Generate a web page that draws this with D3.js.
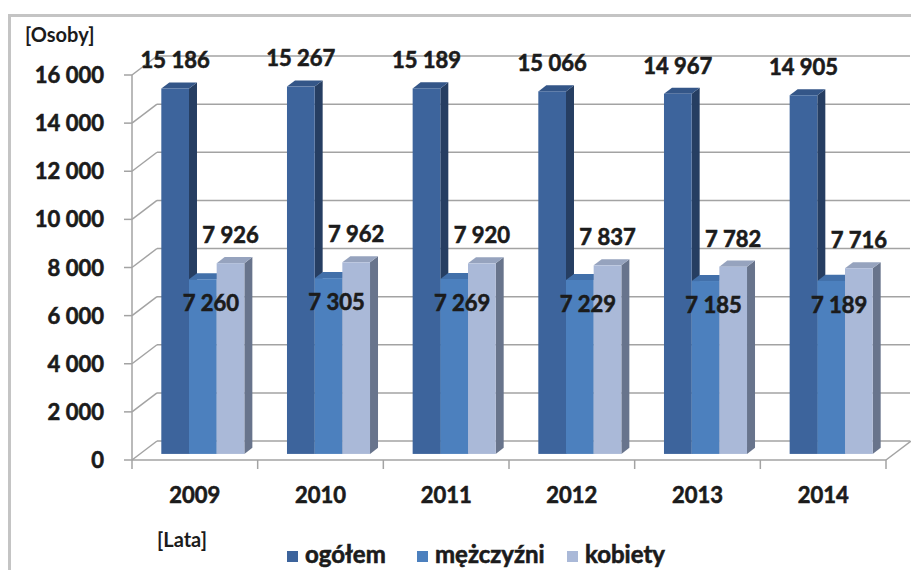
<!DOCTYPE html>
<html>
<head>
<meta charset="utf-8">
<script src="https://cdn.jsdelivr.net/npm/d3@7"></script>
<style>
	html, body { margin: 0; padding: 0; background: #fff; }
	text { font-family: Lato, 'Open Sans', sans-serif; font-weight: bold; fill: #1b1b1b; }
	text.heavy { stroke: #1b1b1b; stroke-width: 0.6px; }
</style>
</head>
<body>
<div id="js_chart"></div>
<script>
/*globals d3*/
'use strict';

const years = ['2009', '2010', '2011', '2012', '2013', '2014'];
const seriesNames = ['ogółem', 'mężczyźni', 'kobiety'];
const ogolem = [15186, 15267, 15189, 15066, 14967, 14905];
const mezczyzni = [7260, 7305, 7269, 7229, 7185, 7189];
const kobiety = [7926, 7962, 7920, 7837, 7782, 7716];
const yTicks = [0, 2000, 4000, 6000, 8000, 10000, 12000, 14000, 16000];
const yLabel = '[Osoby]';
const xLabel = '[Lata]';

(function () {
	const width = 911;
	const height = 570;
	const gridColor = '#a3a3a3';
	// front, top, side per series
	const colors = [
		{ front: 'rgb(61,100,156)', top: 'rgb(52,86,136)', side: 'rgb(38,62,98)' },
		{ front: 'rgb(76,128,190)', top: 'rgb(66,112,170)', side: 'rgb(52,90,140)' },
		{ front: 'rgb(170,185,216)', top: 'rgb(150,163,190)', side: 'rgb(104,116,140)' }
	];
	const depth = { dx: 25, dy: -19 };
	const barDepth = { start: 0.32, size: 0.32 };
	const values = [ogolem, mezczyzni, kobiety];

	const fmt = d3.formatLocale({ decimal: ',', thousands: ' ', grouping: [3], currency: ['', ''] }).format(',d');

	let svg = d3.select('#js_chart').append('svg')
		.attr('width', width)
		.attr('height', height);

	let x0 = d3.scaleBand().domain(years).range([132, 886]);
	let x1 = d3.scaleBand().domain(seriesNames).range([0, x0.bandwidth()]).paddingOuter(0.77);
	let y = d3.scaleLinear().domain([0, 16000]).range([460, 75]);

	function line(x1p, y1p, x2p, y2p, color, w) {
		svg.append('line')
			.attr('x1', x1p).attr('y1', y1p)
			.attr('x2', x2p).attr('y2', y2p)
			.style('stroke', color)
			.style('stroke-width', w);
	}

	function drawFrame() {
		svg.append('rect')
			.attr('x', 9.5).attr('y', 15.5)
			.attr('width', 1000).attr('height', 1000)
			.style('fill', 'none')
			.style('stroke', '#c4c4c4')
			.style('stroke-width', 3);
	}

	function drawWalls() {
		const backRight = 910;
		yTicks.forEach(function (t) {
			let yy = y(t);
			// side wall diagonal and back wall line
			line(132, yy, 132 + depth.dx, yy + depth.dy, gridColor, 1.5);
			line(132 + depth.dx, yy + depth.dy, backRight, yy + depth.dy, gridColor, 1.5);
			// tick
			line(124, yy, 132, yy, gridColor, 1.5);
			svg.append('text')
				.classed('heavy', true)
				.attr('x', 104)
				.attr('y', yy + 8)
				.attr('text-anchor', 'end')
				.style('font-size', '22px')
				.text(fmt(t));
		});
		// axis
		line(132, y(16000), 132, 469, gridColor, 1.5);
		// floor front edge and right diagonal
		line(132, y(0), 886, y(0), gridColor, 1.5);
		line(886, y(0), 886 + depth.dx, y(0) + depth.dy, gridColor, 1.5);
		// category ticks
		years.forEach(function (d) {
			let xx = x0(d) + x0.bandwidth();
			line(xx, y(0), xx, 469, gridColor, 1.5);
			svg.append('text')
				.classed('heavy', true)
				.attr('x', x0(d) + x0.bandwidth() / 2)
				.attr('y', 503)
				.attr('text-anchor', 'middle')
				.style('font-size', '22px')
				.text(d);
		});
	}

	function drawBars() {
		let fx = depth.dx * barDepth.start;
		let fy = depth.dy * barDepth.start;
		let sx = depth.dx * barDepth.size;
		let sy = depth.dy * barDepth.size;
		years.forEach(function (yr, gi) {
			seriesNames.forEach(function (s, si) {
				let v = values[si][gi];
				let xl = x0(yr) + x1(s) + fx;
				let xr = xl + x1.bandwidth();
				let yt = y(v) + fy;
				let yb = y(0) + fy;
				let g = svg.append('g');
				g.append('polygon')
					.attr('points', [[xr, yt], [xr + sx, yt + sy], [xr + sx, yb + sy], [xr, yb]].join(' '))
					.style('fill', colors[si].side);
				g.append('polygon')
					.attr('points', [[xl, yt], [xl + sx, yt + sy], [xr + sx, yt + sy], [xr, yt]].join(' '))
					.style('fill', colors[si].top);
				g.append('rect')
					.attr('x', xl).attr('y', yt)
					.attr('width', x1.bandwidth())
					.attr('height', yb - yt)
					.style('fill', colors[si].front);
			});
		});
	}

	function drawValueLabels() {
		let fx = depth.dx * barDepth.start;
		let fy = depth.dy * barDepth.start;
		let sy = depth.dy * barDepth.size;
		years.forEach(function (yr, gi) {
			seriesNames.forEach(function (s, si) {
				let v = values[si][gi];
				let xc = x0(yr) + x1(s) + fx + x1.bandwidth() / 2;
				let yy;
				if (si === 1) {
					xc += 8;
					yy = y(v) + fy + 32;
				} else {
					yy = y(v) + fy + sy - 14;
				}
				svg.append('text')
					.classed('heavy', true)
					.attr('x', xc)
					.attr('y', yy)
					.attr('text-anchor', 'middle')
					.style('font-size', '22px')
					.text(fmt(v));
			});
		});
	}

	function drawLegend() {
		let xs = [287, 417, 567];
		seriesNames.forEach(function (s, i) {
			svg.append('rect')
				.attr('x', xs[i]).attr('y', 551)
				.attr('width', 11).attr('height', 11)
				.style('fill', colors[i].front);
			svg.append('text')
				.classed('heavy', true)
				.attr('x', xs[i] + 18)
				.attr('y', 563)
				.style('font-size', '24px')
				.text(s);
		});
	}

	function drawAxisTitles() {
		svg.append('text')
			.attr('x', 25).attr('y', 42)
			.style('font-size', '20px')
			.text(yLabel);
		svg.append('text')
			.attr('x', 157).attr('y', 547)
			.style('font-size', '20px')
			.text(xLabel);
	}

	drawFrame();
	drawWalls();
	drawBars();
	drawValueLabels();
	drawLegend();
	drawAxisTitles();
})();
</script>
</body>
</html>
